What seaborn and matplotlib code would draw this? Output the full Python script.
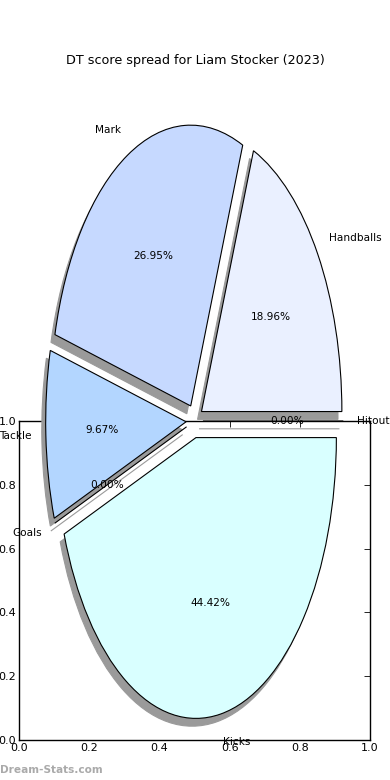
import matplotlib
matplotlib.use("Agg")
import matplotlib.pyplot as plt
import seaborn as sns

# DT score breakdown, in % of total
categories = ['Handballs', 'Mark', 'Tackle', 'Goals', 'Kicks', 'Hitout']
shares = [18.96, 26.95, 9.67, 0.00, 44.42, 0.00]
slice_colors = ['#eaf0ff', '#c6d9ff', '#b3d6ff', '#ffffff', '#d9ffff', '#ffffff']
frame_ticks = [0.0, 0.2, 0.4, 0.6, 0.8, 1.0]

sns.set_theme(style='white')
plt.rcParams['font.family'] = ['DejaVu Sans']

fig = plt.figure(figsize=(3.9, 7.8), dpi=100)

# leftover empty axes frame under the pie
frame = fig.add_axes([19 / 390, 40 / 780, 351 / 390, 319 / 780])
frame.set_xlim(0, 1)
frame.set_ylim(0, 1)
frame.set_xticks(frame_ticks)
frame.set_yticks(frame_ticks)
frame.set_xticklabels([f'{t:.1f}' for t in frame_ticks])
frame.set_yticklabels([f'{t:.1f}' for t in frame_ticks])
frame.tick_params(direction='in', top=True, right=True, length=4, width=0.6,
                  labelsize=8, colors='black', pad=2)
for sp in frame.spines.values():
    sp.set_color('black')
    sp.set_linewidth(1)

# the pie itself, stretched (no equal aspect)
ax = fig.add_axes([19 / 390, 8 / 780, 351 / 390, 702 / 780])
ax.patch.set_alpha(0)
ax.pie(shares, labels=categories, colors=slice_colors,
       explode=[0.06] * len(shares), autopct='%.2f%%', startangle=0,
       shadow={'facecolor': '#9a9a9a', 'edgecolor': '#9a9a9a', 'alpha': 1},
       wedgeprops={'edgecolor': 'black', 'linewidth': 0.8},
       textprops={'fontsize': 7.6, 'color': 'black'})
ax.set_aspect('auto')
ax.set_xlim(-1.25, 1.25)
ax.set_ylim(-1.25, 1.25)
ax.axis('off')

fig.text(0.5, 0.922, 'DT score spread for Liam Stocker (2023)', ha='center',
         va='center', fontsize=9.2, color='black')
fig.text(0.0, 0.013, 'Dream-Stats.com', ha='left', va='center', fontsize=7.6,
         fontweight='bold', color='#aaaaaa')

fig.savefig('out.png', dpi=100)
